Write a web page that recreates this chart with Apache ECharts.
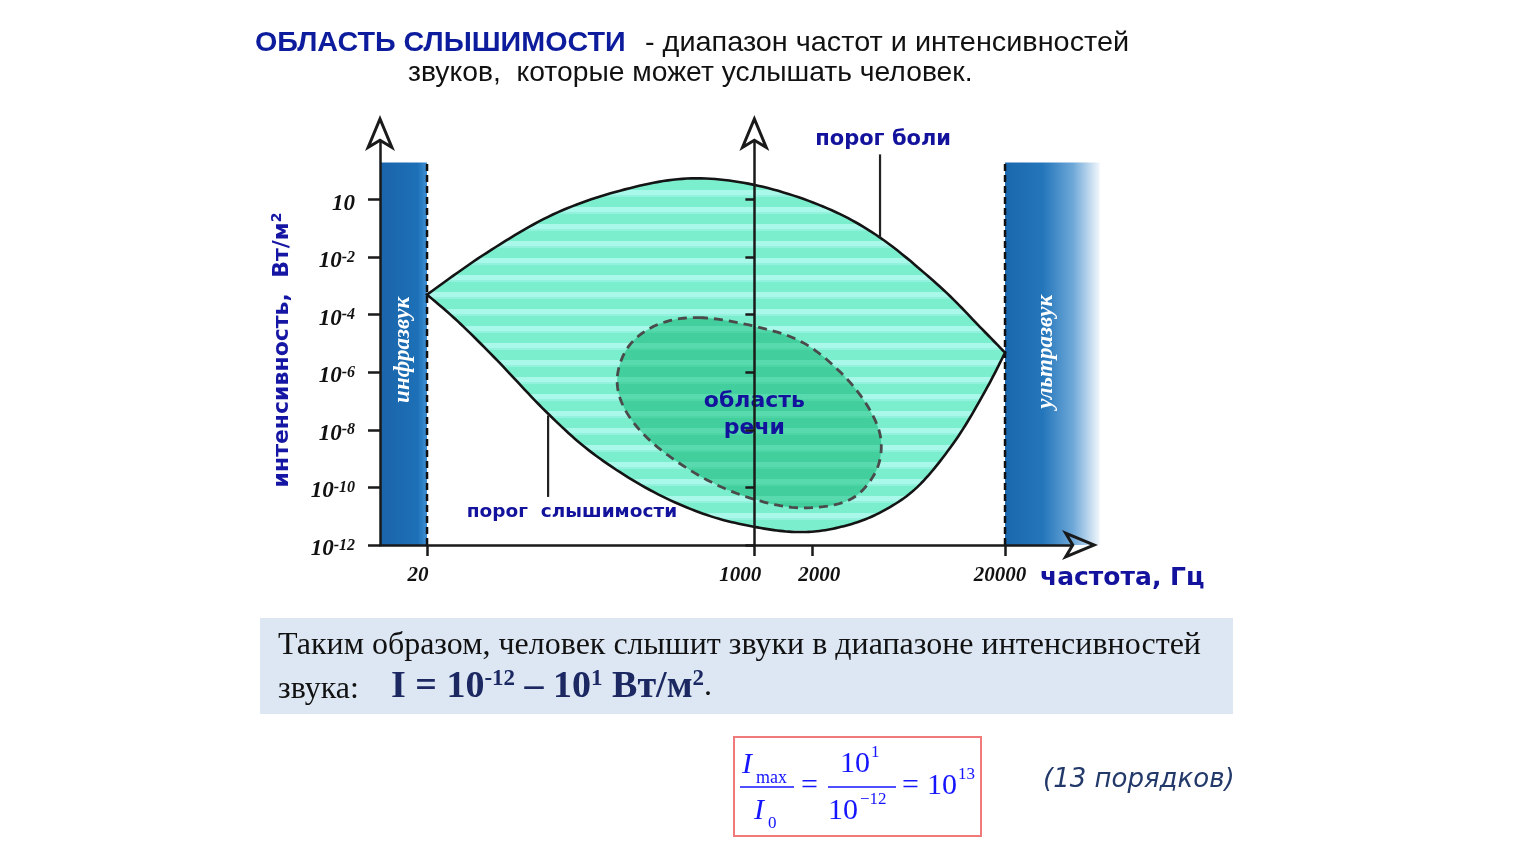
<!DOCTYPE html>
<html><head><meta charset="utf-8">
<script src="https://cdn.jsdelivr.net/npm/echarts@6/dist/echarts.min.js"></script>
<style>html,body{margin:0;padding:0;background:#fff}#c{width:1533px;height:864px}</style>
</head><body><div id="c"></div>
<script>
// ---------- data (frequency in Hz, level = log10 of intensity on the drawing's scale) ----------
const painFreq  = [20, 41, 90, 201, 447, 984, 2270, 4490, 9200, 14800, 20000];
const painLevel = [-3.30, -1.84, -0.52, 0.31, 0.73, 0.52, -0.24, -1.32, -3.03, -4.42, -5.32];
const hearFreq  = [20, 29, 46, 83, 144, 287, 568, 1080, 1790, 2820, 4440, 7030, 11100, 15900, 20000];
const hearLevel = [-3.30, -4.24, -5.57, -7.37, -8.80, -10.09, -10.96, -11.41, -11.55, -11.37, -10.89, -9.98, -8.35, -6.61, -5.32];
const speechFreq  = [516, 1030, 1790, 2820, 3890, 4540, 4230, 3100, 1790, 1030, 568, 313, 218, 194, 222, 313];
const speechLevel = [-4.10, -4.42, -4.97, -6.02, -7.20, -8.35, -9.50, -10.44, -10.71, -10.44, -9.74, -8.59, -7.41, -6.26, -5.11, -4.35];
const xTickFreq  = [20, 1000, 2000, 20000];
const yTickLevel = [-12, -10, -8, -6, -4, -2, 0];
const yTickExp   = ['-12', '-10', '-8', '-6', '-4', '-2', ''];
const infraBand = [11.4, 20];
const ultraBand = [20000, 62000];
const bandTop = 1.29;
const xExtentFreq = [11.4, 44000];
const yExtent = [-12, 2];

// annotation anchors (freq, level)
const painLeader = [4490, 1.57, -1.32];
const hearLeader = [85, -7.50, -10.33];
const annotations = {
  pain:   [4660, 2.09],
  hear:   [113, -10.85],
  speech: [1000, -7.48],
  infra:  [15, -5.22],
  ultra:  [32650, -5.29]
};

// ---------- helpers ----------
const X = f => Math.log10(f / 1000);
const BLUE = '#12129c';
const ARROW = 'path://M15 0L30 36L15 27L0 36Z M15 7.8L6.26 28.75L15 23.5L23.74 28.75Z';

function sampleCR(pts, closed, steps) {
  const n = pts.length, out = [];
  const get = i => closed ? pts[(i + n) % n] : pts[Math.max(0, Math.min(n - 1, i))];
  const segs = closed ? n : n - 1;
  for (let i = 0; i < segs; i++) {
    const p0 = get(i - 1), p1 = get(i), p2 = get(i + 1), p3 = get(i + 2);
    for (let s = 0; s < steps; s++) {
      const t = s / steps, t2 = t * t, t3 = t2 * t;
      const pt = [0, 1].map(k => 0.5 * ((2 * p1[k]) + (-p0[k] + p2[k]) * t +
        (2 * p0[k] - 5 * p1[k] + 4 * p2[k] - p3[k]) * t2 + (-p0[k] + 3 * p1[k] - 3 * p2[k] + p3[k]) * t3));
      out.push(pt);
    }
  }
  if (!closed) out.push(pts[n - 1]);
  return out;
}
function stripes(base, light, mid, period) {
  const c = document.createElement('canvas');
  c.width = 8; c.height = period;
  const g = c.getContext('2d');
  g.fillStyle = base; g.fillRect(0, 0, 8, period);
  g.fillStyle = light; g.fillRect(0, 3, 8, 5);
  g.fillStyle = mid; g.fillRect(0, 8, 8, 2);
  return c;
}
const lensPattern = stripes('#7aeecd', '#a9f8ea', '#93f2dd', 17);
const speechPattern = stripes('#43cf9d', '#58daae', '#4dd5a5', 17);

function renderDiagram(params, api) {
  const P = (f, l) => api.coord([X(f), l]);
  const ch = [];
  // infrasound band
  let a = P(infraBand[0], bandTop), b = P(infraBand[1], yExtent[0]);
  ch.push({type: 'rect', shape: {x: a[0], y: a[1], width: b[0] - a[0], height: b[1] - a[1]},
    style: {fill: {type: 'linear', x: 0, y: 0, x2: 1, y2: 0, colorStops: [
      {offset: 0, color: '#1a64aa'}, {offset: 0.8, color: '#1d70b7'}, {offset: 1, color: '#3f8fd3'}]}}});
  // ultrasound band
  a = P(ultraBand[0], bandTop); b = P(ultraBand[1], yExtent[0]);
  ch.push({type: 'rect', shape: {x: a[0], y: a[1], width: b[0] - a[0], height: b[1] - a[1]},
    style: {fill: {type: 'linear', x: 0, y: 0, x2: 1, y2: 0, colorStops: [
      {offset: 0, color: '#1a67ad'}, {offset: 0.4, color: '#2476bb'}, {offset: 0.72, color: '#6ea8d8'}, {offset: 1, color: '#f2f7fc'}]}}});
  // dashed band edges
  [infraBand[1], ultraBand[0]].forEach(f => {
    const p1 = P(f, yExtent[0]), p2 = P(f, bandTop);
    ch.push({type: 'line', shape: {x1: p1[0], y1: p1[1], x2: p2[0], y2: p2[1]},
      style: {stroke: '#111', lineWidth: 2.5, lineDash: [7, 4]}});
  });
  // lens between hearing threshold and pain threshold
  const top = sampleCR(painFreq.map((f, i) => P(f, painLevel[i])), false, 14);
  const bot = sampleCR(hearFreq.map((f, i) => P(f, hearLevel[i])), false, 14);
  ch.push({type: 'polygon', shape: {points: top.concat(bot.slice().reverse())},
    style: {fill: {image: lensPattern, repeat: 'repeat'}, stroke: '#141414', lineWidth: 2.6, lineJoin: 'miter'}});
  // speech area
  const sp = sampleCR(speechFreq.map((f, i) => P(f, speechLevel[i])), true, 12);
  ch.push({type: 'polygon', shape: {points: sp},
    style: {fill: {image: speechPattern, repeat: 'repeat'}, stroke: '#4a4a4a', lineWidth: 2.8, lineDash: [9, 6]}});
  // leader lines
  [painLeader, hearLeader].forEach(L => {
    const p1 = P(L[0], L[1]), p2 = P(L[0], L[2]);
    ch.push({type: 'line', shape: {x1: p1[0], y1: p1[1], x2: p2[0], y2: p2[1]},
      style: {stroke: '#222', lineWidth: 2.2}});
  });
  // texts
  const T = (key, text, font, fill, rot, lh) => {
    const p = P(annotations[key][0], annotations[key][1]);
    ch.push({type: 'text', x: p[0], y: p[1], rotation: rot || 0, z2: 20,
      style: {text: text, font: font, fill: fill, align: 'center', verticalAlign: 'middle', lineHeight: lh || undefined}});
  };
  T('pain', 'порог боли', 'bold 21px "DejaVu Sans"', BLUE);
  T('hear', 'порог  слышимости', 'bold 18.5px "DejaVu Sans"', BLUE);
  T('speech', 'область\nречи', 'bold 22px "DejaVu Sans"', BLUE, 0, 27);
  T('infra', 'инфразвук', 'italic bold 23px "Liberation Serif"', '#ffffff', Math.PI / 2);
  T('ultra', 'ультразвук', 'italic bold 23px "Liberation Serif"', '#ffffff', Math.PI / 2);
  return {type: 'group', children: ch};
}

const axisLineStyle = {color: '#1a1a1a', width: 2.5};
const yLabelRich = {
  b: {fontFamily: 'Liberation Serif', fontStyle: 'italic', fontWeight: 'bold', fontSize: 23, lineHeight: 23, color: '#111'},
  s: {fontFamily: 'Liberation Serif', fontStyle: 'italic', fontWeight: 'bold', fontSize: 16, lineHeight: 16, verticalAlign: 'top', color: '#111'}
};
const xPads = [[0, 18, 0, 0], [0, 28, 0, 0], [0, 0, 0, 14], [0, 10, 0, 0]];
const xLabelRich = {};
xPads.forEach((p, i) => {
  xLabelRich['t' + i] = {fontFamily: 'Liberation Serif', fontStyle: 'italic', fontWeight: 'bold', fontSize: 21, color: '#111', padding: p};
});
const xTickVals = xTickFreq.map(X);

const chart = echarts.init(document.getElementById('c'), null, {renderer: 'canvas'});
chart.setOption({
  animation: false,
  backgroundColor: '#ffffff',
  grid: {left: 380, right: 462, top: 142, bottom: 319, containLabel: false},
  xAxis: {
    type: 'value', min: X(xExtentFreq[0]), max: X(xExtentFreq[1]), z: 5,
    axisLine: {onZero: false, lineStyle: axisLineStyle, symbol: ['none', ARROW], symbolSize: [30, 36], symbolOffset: [0, 9]},
    axisTick: {show: true, customValues: xTickVals, length: 11, lineStyle: axisLineStyle},
    axisLabel: {customValues: xTickVals, margin: 20, rich: xLabelRich,
      formatter: v => {
        const f = Math.round(1000 * Math.pow(10, v));
        const i = xTickFreq.indexOf(f);
        return '{t' + i + '|' + f + '}';
      }},
    splitLine: {show: false}
  },
  yAxis: [{
    type: 'value', min: yExtent[0], max: yExtent[1], position: 'left', z: 5,
    axisLine: {onZero: false, lineStyle: axisLineStyle, symbol: ['none', ARROW], symbolSize: [30, 36], symbolOffset: [0, 9]},
    axisTick: {show: true, customValues: yTickLevel, length: 12, lineStyle: axisLineStyle},
    axisLabel: {customValues: yTickLevel, margin: 25, rich: yLabelRich, padding: [8, 0, 0, 0],
      formatter: v => {
        const e = yTickExp[yTickLevel.indexOf(Math.round(v))];
        return e ? '{b|10}{s|' + e + '}' : '{b|10}';
      }},
    splitLine: {show: false}
  }, {
    type: 'value', min: yExtent[0], max: yExtent[1], position: 'left', z: 5,
    axisLine: {onZero: true, lineStyle: axisLineStyle, symbol: ['none', ARROW], symbolSize: [30, 36], symbolOffset: [0, 9]},
    axisTick: {show: true, customValues: yTickLevel, length: 9, lineStyle: axisLineStyle},
    axisLabel: {show: false},
    splitLine: {show: false}
  }],
  series: [{
    type: 'custom', coordinateSystem: 'cartesian2d', xAxisIndex: 0, yAxisIndex: 0,
    clip: false, silent: true, z: 2,
    data: [[0, 0]],
    renderItem: renderDiagram
  }],
  graphic: [
    {type: 'text', x: 255, y: 43, scaleX: 1.025, style: {
      text: 'ОБЛАСТЬ СЛЫШИМОСТИ', verticalAlign: 'middle',
      font: 'bold 28px "Liberation Sans"', fill: '#0c1c9c'}},
    {type: 'text', x: 645, y: 43, scaleX: 1.03, style: {
      text: '- диапазон частот и интенсивностей', verticalAlign: 'middle',
      font: '28px "Liberation Sans"', fill: '#111'}},
    {type: 'text', x: 408, y: 73, scaleX: 1.01, style: {
      text: 'звуков,  которые может услышать человек.', verticalAlign: 'middle',
      font: '28px "Liberation Sans"', fill: '#111'}},
    {type: 'text', x: 282, y: 350, rotation: Math.PI / 2, style: {
      text: '{a|интенсивность,  Вт/м}{s|2}', align: 'center', verticalAlign: 'middle',
      rich: {
        a: {fontFamily: 'DejaVu Sans', fontWeight: 'bold', fontSize: 22, fill: '#1616a4', lineHeight: 24},
        s: {fontFamily: 'DejaVu Sans', fontWeight: 'bold', fontSize: 14, fill: '#1616a4', verticalAlign: 'top', lineHeight: 14}
      }}},
    {type: 'text', x: 1040, y: 578, style: {
      text: 'частота, Гц', verticalAlign: 'middle', font: 'bold 25px "DejaVu Sans"', fill: BLUE}},
    // summary box
    {type: 'rect', shape: {x: 260, y: 618, width: 973, height: 96}, style: {fill: '#dde7f3'}},
    {type: 'text', x: 278, y: 646, style: {
      text: 'Таким образом, человек слышит звуки в диапазоне интенсивностей', verticalAlign: 'middle',
      font: '32px "Liberation Serif"', fill: '#111'}},
    {type: 'text', x: 278, y: 690, style: {
      text: 'звука:', verticalAlign: 'middle', font: '32px "Liberation Serif"', fill: '#111'}},
    {type: 'text', x: 391, y: 687, style: {
      text: '{f|I = 10}{s|-12}{f| – 10}{s|1}{f| Вт/м}{s|2}{n|.}', verticalAlign: 'middle',
      rich: {
        f: {fontFamily: 'Liberation Serif', fontWeight: 'bold', fontSize: 38, fill: '#1b2862', lineHeight: 38},
        s: {fontFamily: 'Liberation Serif', fontWeight: 'bold', fontSize: 23, fill: '#1b2862', verticalAlign: 'top', lineHeight: 23},
        n: {fontFamily: 'Liberation Serif', fontSize: 32, fill: '#111', lineHeight: 38}
      }}},
    // formula box
    {type: 'rect', shape: {x: 734, y: 737, width: 247, height: 99}, style: {fill: 'none', stroke: '#f07a7a', lineWidth: 2}},
    {type: 'text', x: 742, y: 765, style: {text: 'I', verticalAlign: 'middle', font: 'italic 30px "Liberation Serif"', fill: '#1515ff'}},
    {type: 'text', x: 756, y: 778, style: {text: 'max', verticalAlign: 'middle', font: '18px "Liberation Serif"', fill: '#1515ff'}},
    {type: 'line', shape: {x1: 740, y1: 787, x2: 794, y2: 787}, style: {stroke: '#1515ff', lineWidth: 1.5}},
    {type: 'text', x: 754, y: 811, style: {text: 'I', verticalAlign: 'middle', font: 'italic 30px "Liberation Serif"', fill: '#1515ff'}},
    {type: 'text', x: 768, y: 824, style: {text: '0', verticalAlign: 'middle', font: '17px "Liberation Serif"', fill: '#1515ff'}},
    {type: 'text', x: 801, y: 786, style: {text: '=', verticalAlign: 'middle', font: '30px "Liberation Serif"', fill: '#1515ff'}},
    {type: 'text', x: 840, y: 764, style: {text: '10', verticalAlign: 'middle', font: '30px "Liberation Serif"', fill: '#1515ff'}},
    {type: 'text', x: 871, y: 753, style: {text: '1', verticalAlign: 'middle', font: '17px "Liberation Serif"', fill: '#1515ff'}},
    {type: 'line', shape: {x1: 828, y1: 787, x2: 896, y2: 787}, style: {stroke: '#1515ff', lineWidth: 1.5}},
    {type: 'text', x: 828, y: 811, style: {text: '10', verticalAlign: 'middle', font: '30px "Liberation Serif"', fill: '#1515ff'}},
    {type: 'text', x: 860, y: 800, style: {text: '−12', verticalAlign: 'middle', font: '17px "Liberation Serif"', fill: '#1515ff'}},
    {type: 'text', x: 902, y: 786, style: {text: '=', verticalAlign: 'middle', font: '30px "Liberation Serif"', fill: '#1515ff'}},
    {type: 'text', x: 927, y: 786, style: {text: '10', verticalAlign: 'middle', font: '30px "Liberation Serif"', fill: '#1515ff'}},
    {type: 'text', x: 958, y: 775, style: {text: '13', verticalAlign: 'middle', font: '17px "Liberation Serif"', fill: '#1515ff'}},
    {type: 'text', x: 1043, y: 780, style: {text: '(13 порядков)', verticalAlign: 'middle', font: 'italic 26px "DejaVu Sans"', fill: '#22396a'}}
  ]
});
</script></body></html>
